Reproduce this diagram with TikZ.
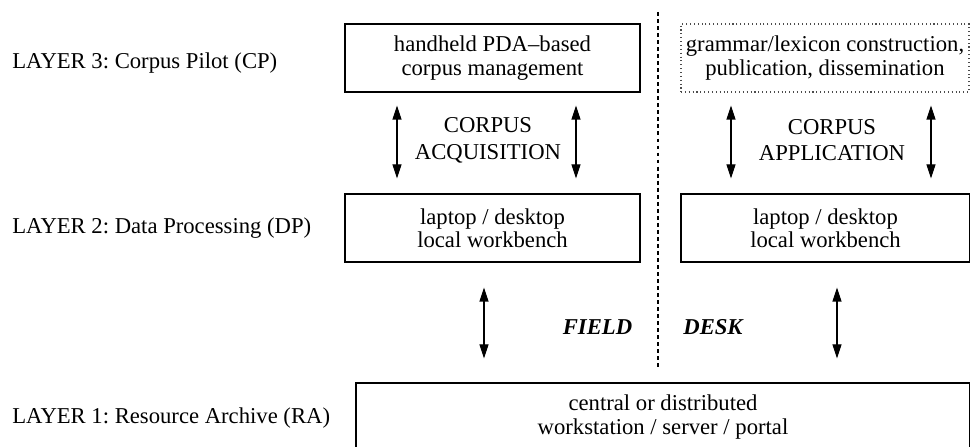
\documentclass[tikz,border=0pt]{standalone}
\usepackage{fontspec}
\setmainfont{Liberation Serif}
\usetikzlibrary{arrows.meta,calc}

\tikzset{
  layerbox/.style={draw, line width=0.6pt, minimum width=5.9cm, minimum height=1.36cm, align=center, inner sep=0pt},
  planbox/.style={layerbox, draw=black!70, dash pattern=on 0.6pt off 1.6pt},
  layerlabel/.style={anchor=west, inner sep=0pt},
  flowtext/.style={align=center, inner sep=0pt},
  flow/.style={{Triangle[length=2.8mm,width=1.8mm]}-{Triangle[length=2.8mm,width=1.8mm]}, line width=0.6pt},
  divider/.style={line width=0.6pt, dash pattern=on 2.2pt off 1.8pt},
}

\begin{document}
\begin{tikzpicture}[font=\fontsize{12.9}{13.2}\selectfont\frenchspacing]

\clip (0,0) rectangle (19.4,8.92);

% Layer labels
\node[layerlabel] (l3) at (0.24,7.66) {LAYER 3: Corpus Pilot (CP)};
\node[layerlabel] (l2) at (0.24,4.36) {LAYER 2: Data Processing (DP)};
\node[layerlabel] (l1) at (0.24,0.56) {LAYER 1: Resource Archive (RA)};

% Field side
\node[layerbox] (pda) at (9.85,7.76) {handheld PDA--based\\corpus management};
\node[layerbox] (fieldwb) at (9.85,4.36) {laptop / desktop\\local workbench};

% Desk side
\node[planbox, minimum width=5.76cm] (publish) at (16.5,7.76)
{grammar/lexicon construction,\\publication, dissemination};
\node[layerbox, minimum width=5.78cm] (deskwb) at (16.51,4.36) {laptop / desktop\\local workbench};

% Archive
\node[layerbox, minimum width=12.28cm] (archive) at (13.26,0.58)
{central or distributed\\workstation / server / portal};

% Field / desk divider
\coordinate (divtop) at (13.16,8.68);
\coordinate (divbot) at (13.16,1.58);
\draw[divider] (divtop) -- (divbot);

% x positions of the arrows
\coordinate (acqa) at (7.94,0);
\coordinate (acqb) at (11.52,0);
\coordinate (appa) at (14.62,0);
\coordinate (appb) at (18.62,0);
\coordinate (arcfield) at (9.68,0);
\coordinate (arcdesk) at (16.74,0);

% Layer 3 <-> layer 2
\draw[flow, shorten <=0.26cm, shorten >=0.3cm] (pda.south -| acqa) -- (fieldwb.north -| acqa);
\draw[flow, shorten <=0.26cm, shorten >=0.3cm] (pda.south -| acqb) -- (fieldwb.north -| acqb);
\draw[flow, shorten <=0.26cm, shorten >=0.3cm] (publish.south -| appa) -- (deskwb.north -| appa);
\draw[flow, shorten <=0.26cm, shorten >=0.3cm] (publish.south -| appb) -- (deskwb.north -| appb);

\node[flowtext] (acq) at (9.76,6.12) {CORPUS\\[2pt]ACQUISITION};
\node[flowtext] (app) at (16.64,6.12) {CORPUS\\[2pt]APPLICATION};

% Layer 2 <-> layer 1
\draw[flow, shorten <=0.5cm, shorten >=0.48cm] (fieldwb.south -| arcfield) -- (archive.north -| arcfield);
\draw[flow, shorten <=0.5cm, shorten >=0.48cm] (deskwb.south -| arcdesk) -- (archive.north -| arcdesk);

\node[flowtext] (field) at (11.95,2.38) {\bfseries\itshape FIELD};
\node[flowtext] (desk) at (14.26,2.38) {\bfseries\itshape DESK};

\end{tikzpicture}
\end{document}
